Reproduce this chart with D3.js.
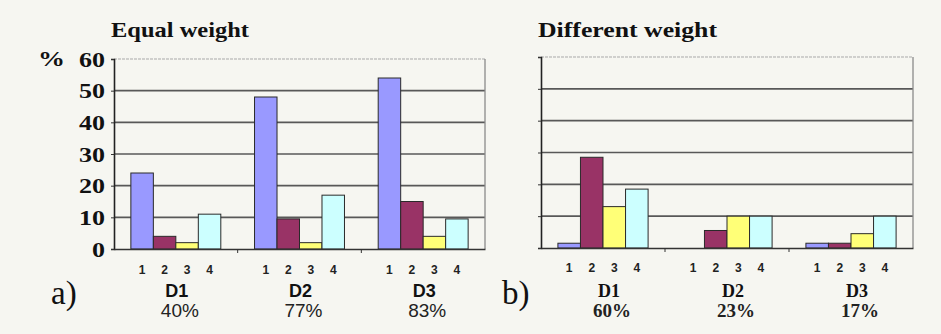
<!DOCTYPE html>
<html lang="en">
  <head>
    <meta charset="UTF-8" />
    <script src="https://cdn.jsdelivr.net/npm/d3@7"></script>
    <style>
      * {
        margin: 0;
        padding: 0;
      }
      body {
        background: #f6f6f1;
      }
    </style>
    <title>Equal vs different weight</title>
  </head>
  <body>
    <div id="chart"></div>
  </body>
  <script>
    const groups = ['D1', 'D2', 'D3'];
    const barKeys = ['1', '2', '3', '4'];
    const yTicks = [0, 10, 20, 30, 40, 50, 60];
    const equalPct = ['40%', '77%', '83%'];
    const diffPct = ['60%', '23%', '17%'];
    // one row per group, one value per bar (1..4)
    const equalWeight = [
      [24, 4, 2, 11],
      [48, 9.5, 2, 17],
      [54, 15, 4, 9.5],
    ];
    const differentWeight = [
      [1.5, 28.5, 13, 18.5],
      [0, 5.5, 10, 10],
      [1.5, 1.5, 4.5, 10],
    ];

    const colorMap = {
      1: '#9999ff',
      2: '#993366',
      3: '#ffff77',
      4: '#ccffff',
    };

    const width = 941;
    const height = 334;

    const svg = d3
      .select('#chart')
      .append('svg')
      .attr('width', width)
      .attr('height', height);

    function drawPanel(opt) {
      const g = svg.append('g');
      const x0 = d3
        .scaleBand()
        .domain(groups)
        .range([opt.left, opt.right])
        .padding(0);
      const x1 = d3
        .scaleBand()
        .domain(barKeys)
        .range([0, x0.bandwidth()])
        .paddingInner(0)
        .paddingOuter(0.75);
      const y = d3.scaleLinear().domain([0, 60]).range([opt.bottom, opt.top]);

      // gridlines
      g.append('g')
        .selectAll('line')
        .data(yTicks.filter((t) => t > 0 && t < 60))
        .join('line')
        .attr('x1', opt.left)
        .attr('x2', opt.right)
        .attr('y1', (d) => y(d))
        .attr('y2', (d) => y(d))
        .attr('stroke', '#585858')
        .attr('stroke-width', 1.7);

      // top + right border
      g.append('line')
        .attr('x1', opt.left)
        .attr('x2', opt.right)
        .attr('y1', y(60))
        .attr('y2', y(60))
        .attr('stroke', '#a9a9a9')
        .attr('stroke-dasharray', '3,1');
      g.append('line')
        .attr('x1', opt.right)
        .attr('x2', opt.right)
        .attr('y1', y(60))
        .attr('y2', y(0))
        .attr('stroke', '#8a8a8a')
        .attr('stroke-width', 1.3);

      // bars
      const rows = groups.map((grp, i) =>
        barKeys.map((k, j) => ({ grp, key: k, value: opt.values[i][j] }))
      );
      g.append('g')
        .selectAll('g')
        .data(rows)
        .join('g')
        .attr('transform', (d) => `translate(${x0(d[0].grp)},0)`)
        .selectAll('rect')
        .data((d) => d.filter((b) => b.value > 0))
        .join('rect')
        .attr('x', (d) => x1(d.key))
        .attr('y', (d) => y(d.value))
        .attr('width', x1.bandwidth())
        .attr('height', (d) => y(0) - y(d.value))
        .attr('fill', (d) => colorMap[d.key])
        .attr('stroke', '#2a2a2a')
        .attr('stroke-width', 1);

      // axes
      const yAxis = g
        .append('g')
        .attr('transform', `translate(${opt.left},0)`)
        .call(d3.axisLeft(y).tickValues(yTicks).tickSize(3).tickFormat(opt.showY ? d3.format('d') : ''));
      yAxis.select('.domain').attr('stroke', '#222').attr('stroke-width', 1.6);
      yAxis.selectAll('.tick line').attr('stroke', '#333');
      yAxis
        .selectAll('.tick text')
        .attr('x', -9)
        .attr('font-family', '"Liberation Serif", serif')
        .attr('font-weight', 'bold')
        .attr('font-size', 22)
        .attr('fill', '#111')
        .attr('textLength', (d) => (d < 10 ? 13 : 26))
        .attr('lengthAdjust', 'spacingAndGlyphs');

      const xAxis = g
        .append('g')
        .attr('transform', `translate(0,${y(0)})`)
        .call(
          d3
            .axisBottom(x0)
            .tickValues([])
            .tickSizeOuter(0)
        );
      xAxis.select('.domain').attr('stroke', '#333').attr('stroke-width', 1.6);
      g.append('g')
        .selectAll('line')
        .data(groups.slice(1))
        .join('line')
        .attr('x1', (d) => x0(d))
        .attr('x2', (d) => x0(d))
        .attr('y1', y(0))
        .attr('y2', y(0) + 4)
        .attr('stroke', '#333');

      // bar numbers
      g.append('g')
        .selectAll('text')
        .data(rows.flat())
        .join('text')
        .attr('x', (d) => x0(d.grp) + x1(d.key) + x1.bandwidth() / 2)
        .attr('y', opt.numY)
        .attr('text-anchor', 'middle')
        .attr('dominant-baseline', 'central')
        .attr('font-family', '"Liberation Sans", Arial, sans-serif')
        .attr('font-weight', 'bold')
        .attr('font-size', 12)
        .attr('fill', '#222')
        .text((d) => d.key);

      // group labels
      g.append('g')
        .selectAll('text')
        .data(groups)
        .join('text')
        .attr('x', (d) => x0(d) + x0.bandwidth() / 2 + opt.labelShift)
        .attr('y', 297)
        .attr('text-anchor', 'middle')
        .attr('font-family', opt.labelFont)
        .attr('font-weight', 'bold')
        .attr('font-size', 18)
        .attr('fill', '#111')
        .text((d) => d);

      g.append('g')
        .selectAll('text')
        .data(opt.pct)
        .join('text')
        .attr('x', (d, i) => x0(groups[i]) + x0.bandwidth() / 2 + opt.labelShift + 3)
        .attr('y', 317)
        .attr('text-anchor', 'middle')
        .attr('font-family', opt.labelFont)
        .attr('font-weight', opt.pctWeight)
        .attr('font-size', 19)
        .attr('fill', '#222')
        .text((d) => d);

      // title
      g.append('text')
        .attr('x', opt.left - 3)
        .attr('y', 37)
        .attr('font-family', '"Liberation Serif", serif')
        .attr('font-weight', 'bold')
        .attr('font-size', 22)
        .attr('fill', '#111')
        .attr('textLength', opt.titleLen)
        .attr('lengthAdjust', 'spacingAndGlyphs')
        .text(opt.title);

      // panel letter
      g.append('text')
        .attr('x', opt.letterX)
        .attr('y', 304)
        .attr('font-family', '"Liberation Serif", serif')
        .attr('font-size', 33)
        .attr('fill', '#111')
        .text(opt.letter);
    }

    drawPanel({
      left: 114,
      right: 485,
      top: 59,
      bottom: 249,
      values: equalWeight,
      pct: equalPct,
      showY: true,
      numY: 270,
      title: 'Equal weight',
      titleLen: 138,
      letter: 'a)',
      letterX: 51,
      labelFont: '"Liberation Sans", Arial, sans-serif',
      pctWeight: 'normal',
      labelShift: 1,
    });

    drawPanel({
      left: 541,
      right: 913,
      top: 57,
      bottom: 248,
      values: differentWeight,
      pct: diffPct,
      showY: false,
      numY: 268,
      title: 'Different weight',
      titleLen: 179,
      letter: 'b)',
      letterX: 502,
      labelFont: '"Liberation Serif", serif',
      pctWeight: 'bold',
      labelShift: 6,
    });

    // the "%" unit beside the left axis
    svg
      .append('text')
      .attr('x', 38)
      .attr('y', 66)
      .attr('font-family', '"Liberation Serif", serif')
      .attr('font-weight', 'bold')
      .attr('font-size', 22)
      .attr('fill', '#111')
      .attr('textLength', 27)
      .attr('lengthAdjust', 'spacingAndGlyphs')
      .text('%');
  </script>
</html>
